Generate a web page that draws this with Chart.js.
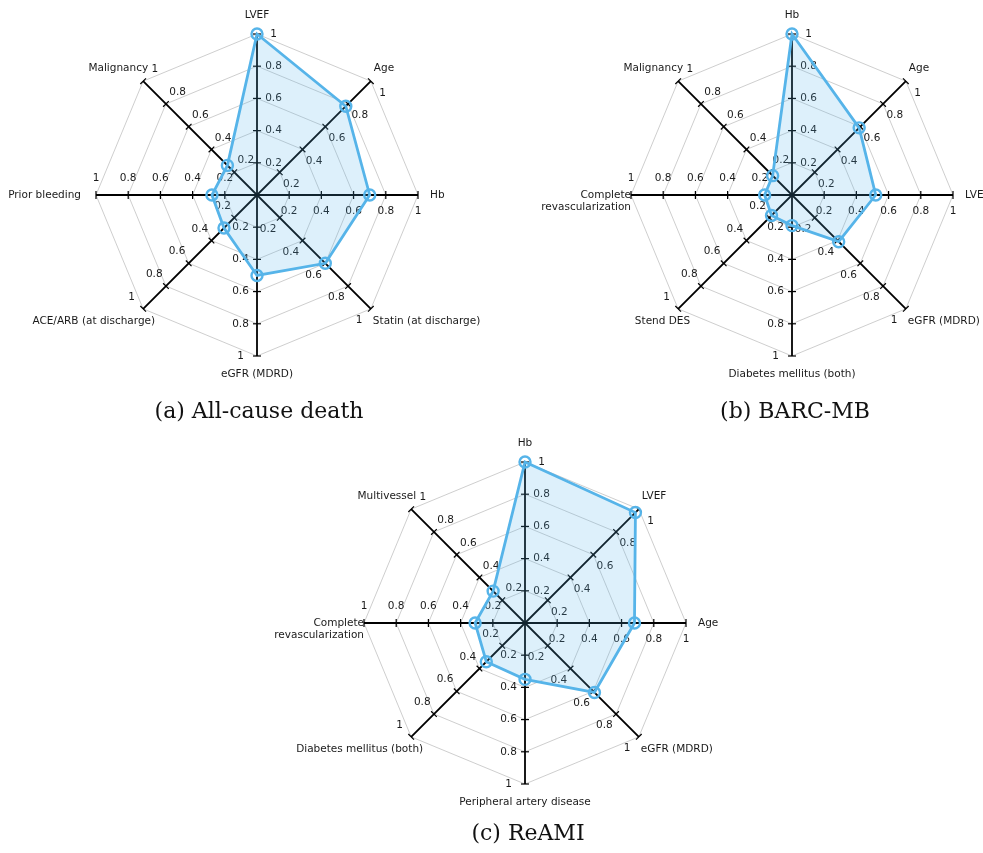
<!DOCTYPE html>
<html lang="en">
<head>
<meta charset="UTF-8">
<title>radar</title>
<script src="https://cdn.jsdelivr.net/npm/chart.js@4.4.1/dist/chart.umd.min.js"></script>
<style>
  body { margin: 0; background: #fff; }
  #page { position: relative; width: 983px; height: 853px; overflow: hidden; }
  canvas { position: absolute; }
  .cap { position: absolute; font-family: "DejaVu Serif", serif; font-size: 22px; color: #111;
         transform: translate(-50%, -50%); white-space: nowrap; }
</style>
</head>
<body>
<div id="page">
  <canvas id="chartA" width="500" height="400" style="left:0;top:0"></canvas>
  <canvas id="chartB" width="500" height="400" style="left:483px;top:0"></canvas>
  <canvas id="chartC" width="500" height="433" style="left:275px;top:420px"></canvas>
  <div class="cap" style="left:259px;top:410px">(a) All-cause death</div>
  <div class="cap" style="left:795px;top:410px">(b) BARC-MB</div>
  <div class="cap" style="left:528px;top:832px">(c) ReAMI</div>
</div>

<script>
// les données de chaque graphique
const labelsA = ['LVEF', 'Age', 'Hb', 'Statin (at discharge)', 'eGFR (MDRD)', 'ACE/ARB (at discharge)', 'Prior bleeding', 'Malignancy'];
const valuesA = [1.0, 0.78, 0.70, 0.60, 0.50, 0.29, 0.28, 0.26];

const labelsB = ['Hb', 'Age', 'LVEF', 'eGFR (MDRD)', 'Diabetes mellitus (both)', 'Stend DES', ['Complete', 'revascularization'], 'Malignancy'];
const valuesB = [1.0, 0.59, 0.52, 0.41, 0.19, 0.18, 0.17, 0.17];

const labelsC = ['Hb', 'LVEF', 'Age', 'eGFR (MDRD)', 'Peripheral artery disease', 'Diabetes mellitus (both)', ['Complete', 'revascularization'], 'Multivessel'];
const valuesC = [1.0, 0.97, 0.68, 0.61, 0.35, 0.34, 0.31, 0.28];

const tickValues = [0.2, 0.4, 0.6, 0.8, 1];
const tickLabels = ['0.2', '0.4', '0.6', '0.8', '1'];

const textColor = '#1a1a1a';
const fontTxt = '10.5px "DejaVu Sans", sans-serif';

// ticks + libellés sur chaque axe (chart.js ne les met que sur un seul)
const axisTicks = {
    id: 'axisTicks',
    beforeDatasetsDraw(chart) {
        const s = chart.scales.r;
        const ctx = chart.ctx;
        ctx.save();
        ctx.font = fontTxt;
        ctx.fillStyle = textColor;
        ctx.textAlign = 'center';
        ctx.textBaseline = 'middle';
        for (let i = 0; i < chart.data.labels.length; i++) {
            const a = s.getIndexAngle(i);
            const px = Math.cos(a), py = Math.sin(a);
            tickValues.forEach((v, k) => {
                const p = s.getPointPositionForValue(i, v);
                ctx.strokeStyle = '#000';
                ctx.lineWidth = 1.2;
                ctx.beginPath();
                ctx.moveTo(p.x - px * 4, p.y - py * 4);
                ctx.lineTo(p.x + px * 4, p.y + py * 4);
                ctx.stroke();
                ctx.fillText(tickLabels[k], p.x + px * 16.5, p.y + py * 16.5);
            });
        }
        ctx.restore();
    },
    afterDraw(chart) {
        // noms des axes
        const s = chart.scales.r;
        const ctx = chart.ctx;
        ctx.save();
        ctx.font = fontTxt;
        ctx.fillStyle = textColor;
        ctx.textBaseline = 'middle';
        chart.data.labels.forEach((lab, i) => {
            const lines = Array.isArray(lab) ? lab : [lab];
            const e = s.getPointPosition(i, s.drawingArea);
            const oct = Math.round(s.getIndexAngle(i) / (Math.PI / 4)) % 8;
            let x = e.x, y = e.y, al = 'center';
            if (oct === 0) { y -= 19; }
            else if (oct === 1) { x += 3; y -= 13; al = 'left'; }
            else if (oct === 2) { x += 12; al = 'left'; }
            else if (oct === 3) { x += 2; y += 12; al = 'left'; }
            else if (oct === 4) { y += 18; }
            else if (oct === 5) { x += 12; y += 12; al = 'right'; }
            else if (oct === 6) { x -= (lines.length > 1 ? 0 : 15); al = 'right'; }
            else { x += 5; y -= 13; al = 'right'; }
            ctx.textAlign = al;
            lines.forEach((t, j) => ctx.fillText(t, x, y + j * 12));
        });
        ctx.restore();
    }
};

function makeRadar(id, labels, values, pad) {
    return new Chart(document.getElementById(id), {
        type: 'radar',
        data: {
            labels: labels,
            datasets: [{
                data: values,
                borderColor: '#56b4e9',
                backgroundColor: 'rgba(86, 180, 233, 0.2)',
                borderWidth: 2.8,
                fill: true,
                tension: 0,
                pointRadius: 5.5,
                pointHoverRadius: 5.5,
                pointBorderWidth: 2.4,
                pointBorderColor: '#56b4e9',
                pointBackgroundColor: 'rgba(0,0,0,0)'
            }]
        },
        options: {
            responsive: false,
            animation: false,
            devicePixelRatio: 1,
            layout: { padding: pad },
            scales: {
                r: {
                    min: 0,
                    max: 1,
                    ticks: { display: false, stepSize: 0.2 },
                    pointLabels: { display: false },
                    grid: { color: '#c2c2c2', lineWidth: 0.8 },
                    angleLines: { color: '#000', lineWidth: 1.8 }
                }
            },
            plugins: {
                legend: { display: false },
                tooltip: { enabled: false }
            }
        },
        plugins: [axisTicks]
    });
}

makeRadar('chartA', labelsA, valuesA, { left: 96, right: 82, top: 34, bottom: 44 });
makeRadar('chartB', labelsB, valuesB, { left: 148, right: 30, top: 34, bottom: 44 });
makeRadar('chartC', labelsC, valuesC, { left: 89, right: 89, top: 42, bottom: 69 });
</script>
</body>
</html>
